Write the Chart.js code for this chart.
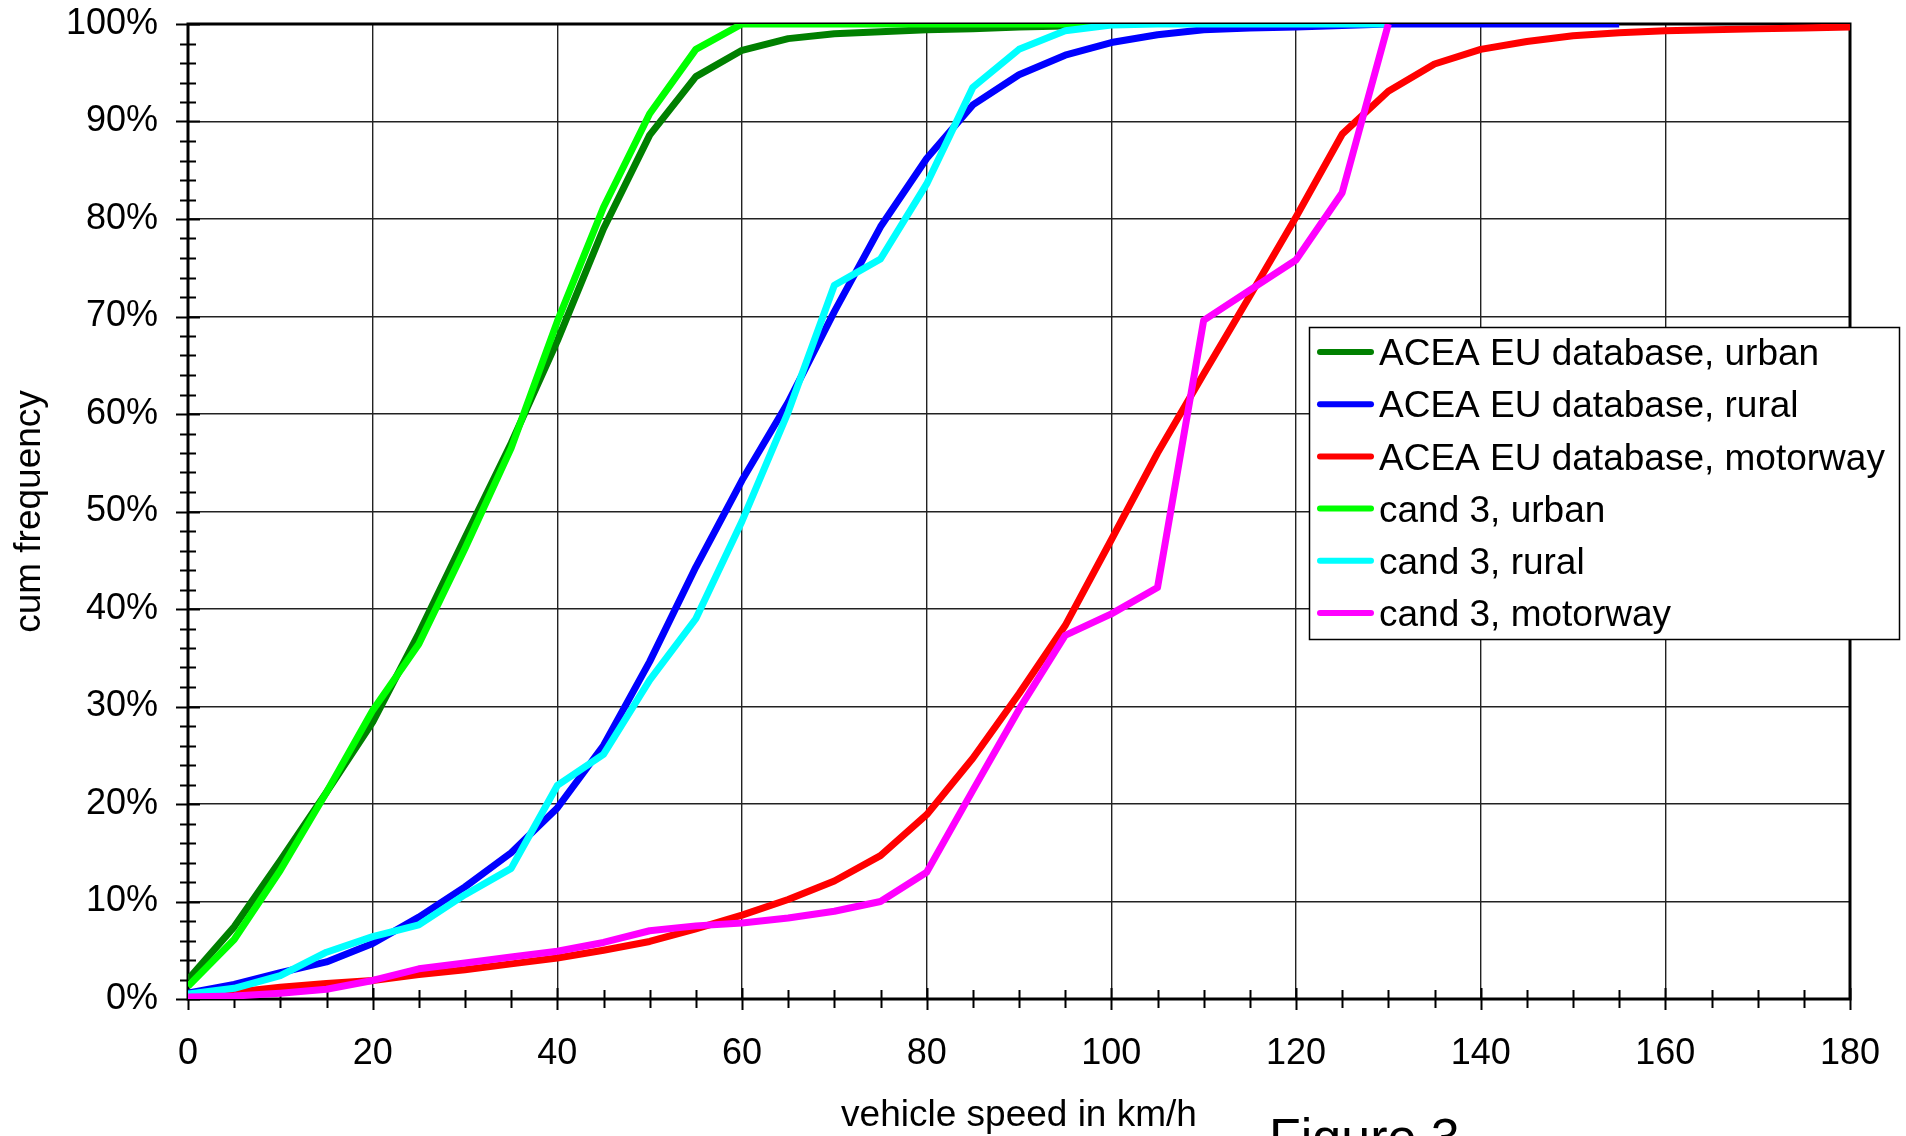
<!DOCTYPE html>
<html>
<head>
<meta charset="utf-8">
<title>Figure 3 - cum frequency of vehicle speed</title>
<script src="https://cdn.jsdelivr.net/npm/chart.js@4.4.1/dist/chart.umd.min.js"></script>
<style>
    html, body { margin: 0; padding: 0; background: #fff; }
    #wrap { position: relative; width: 1906px; height: 1136px; }
</style>
</head>
<body>
<div id="wrap"><canvas id="cumFreqChart"></canvas></div>
<script>
// --- Data (km/h vs cumulative %) ---
const speeds = [0, 5, 10, 15, 20, 25, 30, 35, 40, 45, 50, 55, 60, 65, 70, 75, 80, 85, 90,
    95, 100, 105, 110, 115, 120, 125, 130, 135, 140, 145, 150, 155, 160, 165, 170, 175, 180];

const aceaUrban = [2.0, 7.4, 14.2, 21.2, 28.4, 37.5, 47.3, 57.0, 67.5, 79.0, 88.6, 94.6, 97.3,
    98.5, 99.0, 99.2, 99.4, 99.5, 99.7, 99.8, 100];
const aceaRural = [0.6, 1.5, 2.7, 3.8, 5.7, 8.4, 11.5, 15.0, 19.6, 26.0, 34.6, 44.3, 53.2, 61.2,
    70.5, 79.2, 86.2, 91.7, 94.8, 96.8, 98.1, 98.9, 99.4, 99.6, 99.7, 99.85, 100, 100, 100, 100, 100, 100];
const aceaMotorway = [0.2, 0.7, 1.2, 1.6, 1.9, 2.5, 3.0, 3.6, 4.2, 5.0, 5.9, 7.2, 8.6, 10.2, 12.1,
    14.7, 18.9, 24.7, 31.3, 38.3, 47.1, 56.0, 64.1, 72.1, 80.2, 88.7, 93.1, 95.9, 97.4, 98.2, 98.8,
    99.1, 99.3, 99.4, 99.5, 99.6, 99.7];
const cand3Urban = [1.3, 6.1, 13.2, 21.2, 29.6, 36.4, 46.2, 56.5, 69.5, 81.2, 90.8, 97.4, 100,
    100, 100, 100, 100, 100, 100, 100, 100];
const cand3Rural = [0.5, 1.1, 2.4, 4.8, 6.4, 7.6, 10.7, 13.4, 21.9, 25.1, 32.7, 39.0, 49.0, 60.2,
    73.2, 75.9, 83.6, 93.5, 97.4, 99.3, 99.9, 100, 100, 100, 100, 100, 100];
const cand3Motorway = [0.2, 0.3, 0.6, 1.0, 1.9, 3.1, 3.7, 4.3, 4.9, 5.8, 7.0, 7.5, 7.8, 8.3, 9.0,
    10.0, 13.0, 21.4, 29.7, 37.3, 39.5, 42.2, 69.6, 72.7, 75.8, 82.7, 100];

const seriesLabels = ['ACEA EU database, urban', 'ACEA EU database, rural', 'ACEA EU database, motorway',
    'cand 3, urban', 'cand 3, rural', 'cand 3, motorway'];
const seriesValues = [aceaUrban, aceaRural, aceaMotorway, cand3Urban, cand3Rural, cand3Motorway];
const seriesColors = ['#008000', '#0000ff', '#ff0000', '#00ff00', '#00ffff', '#ff00ff'];

const speedTicks = [0, 20, 40, 60, 80, 100, 120, 140, 160, 180];
const freqTicks = [0, 10, 20, 30, 40, 50, 60, 70, 80, 90, 100];

const FONT = '"Liberation Sans", Arial, sans-serif';

// --- Plot frame + major/minor tick marks (cross the axis like the original) ---
const frameAndTicks = {
    id: 'frameAndTicks',
    beforeDatasetsDraw(chart) {
        const { ctx, chartArea: a, scales: { x, y } } = chart;
        ctx.save();
        ctx.strokeStyle = '#000';
        ctx.lineWidth = 2;
        ctx.beginPath();
        for (let v = 0; v <= 180; v += 5) {
            const px = Math.round(x.getPixelForValue(v)) + 0.5;
            const len = v % 20 === 0 ? 11 : 9;
            ctx.moveTo(px, a.bottom - len);
            ctx.lineTo(px, a.bottom + len);
        }
        for (let v = 0; v <= 100; v += 2) {
            const py = Math.round(y.getPixelForValue(v)) + 0.5;
            const len = v % 10 === 0 ? 12 : 8;
            ctx.moveTo(a.left - len, py);
            ctx.lineTo(a.left + len, py);
        }
        ctx.stroke();
        ctx.lineWidth = 3;
        ctx.strokeRect(a.left, a.top, a.right - a.left, a.bottom - a.top);
        ctx.restore();
    }
};

// --- Legend box (sits over the right edge of the plot) + caption ---
const boxLegend = {
    id: 'boxLegend',
    afterDraw(chart) {
        const ctx = chart.ctx;
        const box = { x: 1309.5, y: 327.5, w: 590, h: 312 };
        ctx.save();
        ctx.fillStyle = '#fff';
        ctx.fillRect(box.x, box.y, box.w, box.h);
        ctx.strokeStyle = '#000';
        ctx.lineWidth = 1.5;
        ctx.strokeRect(box.x, box.y, box.w, box.h);

        ctx.font = '37px ' + FONT;
        ctx.textAlign = 'left';
        ctx.textBaseline = 'middle';
        chart.data.datasets.forEach(function (ds, i) {
            const rowY = 352 + i * 52.2;
            ctx.strokeStyle = ds.borderColor;
            ctx.lineWidth = 6;
            ctx.lineCap = 'round';
            ctx.beginPath();
            ctx.moveTo(1320, rowY);
            ctx.lineTo(1371, rowY);
            ctx.stroke();
            ctx.fillStyle = '#000';
            ctx.fillText(ds.label, 1379, rowY + 3);
        });

        ctx.font = '52px ' + FONT;
        ctx.textBaseline = 'alphabetic';
        ctx.fillText('Figure 3', 1269, 1155);
        ctx.restore();
    }
};

// --- Chart ---
const datasets = seriesValues.map(function (vals, i) {
    return {
        label: seriesLabels[i],
        data: vals.map((v, k) => ({ x: speeds[k], y: v })),
        borderColor: seriesColors[i],
        backgroundColor: seriesColors[i],
        borderWidth: 7,
        borderJoinStyle: 'round',
        pointRadius: 0,
        tension: 0,
        fill: false,
        order: seriesValues.length - 1 - i // later series drawn on top
    };
});

// tick marks are hidden (drawn by plugin) but their length keeps the labels off the axis;
// using tickLength instead of ticks.padding keeps Chart.js from adding extra layout padding
const xGrid = { color: '#222', lineWidth: 1.4, drawTicks: true, tickLength: 33, tickColor: 'rgba(0,0,0,0)' };
const yGrid = { color: '#222', lineWidth: 1.4, drawTicks: true, tickLength: 30, tickColor: 'rgba(0,0,0,0)' };

new Chart(document.getElementById('cumFreqChart'), {
    type: 'line',
    data: { datasets: datasets },
    options: {
        responsive: true,
        maintainAspectRatio: false,
        animation: false,
        layout: { padding: { top: 24, right: 56, bottom: 0, left: 0 } },
        plugins: { legend: { display: false }, tooltip: { enabled: false } },
        scales: {
            x: {
                type: 'linear',
                min: 0,
                max: 180,
                afterBuildTicks: axis => { axis.ticks = speedTicks.map(v => ({ value: v })); },
                afterFit: axis => { axis.height = 137; },
                grid: xGrid,
                border: { display: false },
                ticks: { padding: 0, color: '#000', maxRotation: 0, autoSkip: false,
                    font: { family: FONT, size: 36 } },
                title: { display: true, text: 'vehicle speed in km/h', color: '#000',
                    font: { family: FONT, size: 37, lineHeight: 1.0 }, padding: { top: 0, bottom: 2 } }
            },
            y: {
                type: 'linear',
                min: 0,
                max: 100,
                afterBuildTicks: axis => { axis.ticks = freqTicks.map(v => ({ value: v })); },
                afterFit: axis => { axis.width = 188; },
                grid: yGrid,
                border: { display: false },
                ticks: { padding: 0, color: '#000', callback: v => v + '%',
                    font: { family: FONT, size: 36 } },
                title: { display: true, text: 'cum frequency', color: '#000',
                    font: { family: FONT, size: 37 }, padding: { top: 8, bottom: 0 } }
            }
        }
    },
    plugins: [frameAndTicks, boxLegend]
});
</script>
</body>
</html>
